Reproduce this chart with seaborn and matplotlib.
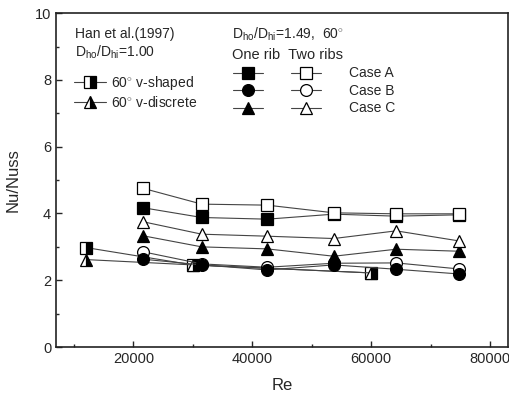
import seaborn as sns
import matplotlib.pyplot as plt
import pandas as pd
from matplotlib.lines import Line2D

# Re values
re_case = [21700, 31500, 42500, 53700, 64200, 74700]
re_han = [12000, 30000, 60000]

# Nu/Nuss, D_ho/D_hi = 1.49
one_rib_a = [4.17, 3.88, 3.83, 3.98, 3.92, 3.96]
one_rib_b = [2.63, 2.46, 2.31, 2.46, 2.33, 2.19]
one_rib_c = [3.33, 3.00, 2.94, 2.72, 2.93, 2.87]
two_ribs_a = [4.75, 4.28, 4.25, 4.02, 3.99, 3.99]
two_ribs_b = [2.85, 2.49, 2.39, 2.51, 2.52, 2.34]
two_ribs_c = [3.75, 3.38, 3.32, 3.25, 3.48, 3.18]

# Han et al. (1997)
han_v_shaped = [2.98, 2.46, 2.22]
han_v_discrete = [2.62, 2.46, 2.22]

sns.set_style('ticks')
plt.rcParams['font.family'] = ['Liberation Sans', 'DejaVu Sans']
plt.rcParams['mathtext.fontset'] = 'custom'
plt.rcParams['mathtext.rm'] = 'Liberation Sans'

fig = plt.figure(figsize=(5.1, 3.98), dpi=100)
ax = fig.add_axes([0.110, 0.128, 0.886, 0.839])

line_kw = dict(color='#444444', linewidth=0.8, markersize=8.5,
               markeredgecolor='black', markeredgewidth=0.9, sort=False)

series = [
    (re_han, han_v_shaped, dict(marker='s', fillstyle='right', markerfacecolor='black', markerfacecoloralt='white')),
    (re_han, han_v_discrete, dict(marker='^', fillstyle='right', markerfacecolor='black', markerfacecoloralt='white')),
    (re_case, two_ribs_b, dict(marker='o', markerfacecolor='white')),
    (re_case, one_rib_b, dict(marker='o', markerfacecolor='black')),
    (re_case, one_rib_c, dict(marker='^', markerfacecolor='black')),
    (re_case, two_ribs_c, dict(marker='^', markerfacecolor='white')),
    (re_case, one_rib_a, dict(marker='s', markerfacecolor='black')),
    (re_case, two_ribs_a, dict(marker='s', markerfacecolor='white')),
]
for x, y, kw in series:
    df = pd.DataFrame({'Re': x, 'Nu': y})
    sns.lineplot(data=df, x='Re', y='Nu', ax=ax, **line_kw, **kw)

ax.set_xlim(7000, 83000)
ax.set_ylim(0, 10)
ax.set_xticks([20000, 40000, 60000, 80000])
ax.set_xticks([10000, 30000, 50000, 70000], minor=True)
ax.set_yticks([0, 2, 4, 6, 8, 10])
ax.set_yticks([1, 3, 5, 7, 9], minor=True)
ax.tick_params(direction='in', which='major', length=4, width=1, labelsize=10.5)
ax.tick_params(direction='in', which='minor', length=2.5, width=1)
for s in ax.spines.values():
    s.set_linewidth(1.2)
    s.set_color('#222222')
ax.set_xlabel('Re', fontsize=12, labelpad=9)
ax.set_ylabel('Nu/Nuss', fontsize=12, labelpad=10)

sub = r'D$_{\rm ho}$/D$_{\rm hi}$'
ax.text(0.042, 0.937, 'Han et al.(1997)', transform=ax.transAxes, fontsize=10, va='center')
ax.text(0.042, 0.884, sub + '=1.00', transform=ax.transAxes, fontsize=10, va='center')
ax.text(0.389, 0.937, sub + r'=1.49,  60$^{\circ}$', transform=ax.transAxes, fontsize=10, va='center')
ax.text(0.389, 0.874, 'One rib  Two ribs', transform=ax.transAxes, fontsize=10.5, va='center')

hk = dict(color='#444444', linewidth=0.8, markersize=8.5, markeredgecolor='black', markeredgewidth=0.9)
han_handles = [
    Line2D([], [], marker='s', fillstyle='right', markerfacecolor='black', markerfacecoloralt='white', **hk),
    Line2D([], [], marker='^', fillstyle='right', markerfacecolor='black', markerfacecoloralt='white', **hk),
]
leg1 = ax.legend(han_handles, [r'60$^{\circ}$ v-shaped', r'60$^{\circ}$ v-discrete'],
                 loc='upper left', bbox_to_anchor=(0.028, 0.835), frameon=False, fontsize=10,
                 handlelength=2.3, handletextpad=0.35, labelspacing=0.25, borderaxespad=0)
ax.add_artist(leg1)

case_handles = [
    Line2D([], [], marker='s', markerfacecolor='black', **hk),
    Line2D([], [], marker='o', markerfacecolor='black', **hk),
    Line2D([], [], marker='^', markerfacecolor='black', **hk),
    Line2D([], [], marker='s', markerfacecolor='white', **hk),
    Line2D([], [], marker='o', markerfacecolor='white', **hk),
    Line2D([], [], marker='^', markerfacecolor='white', **hk),
]
ax.legend(case_handles, ['', '', '', 'Case A', 'Case B', 'Case C'], ncol=2,
          loc='upper left', bbox_to_anchor=(0.379, 0.857), frameon=False, fontsize=10,
          handlelength=2.2, handletextpad=2.0, columnspacing=-0.05, labelspacing=0.25, borderaxespad=0)

fig.savefig('out.png', dpi=100)
